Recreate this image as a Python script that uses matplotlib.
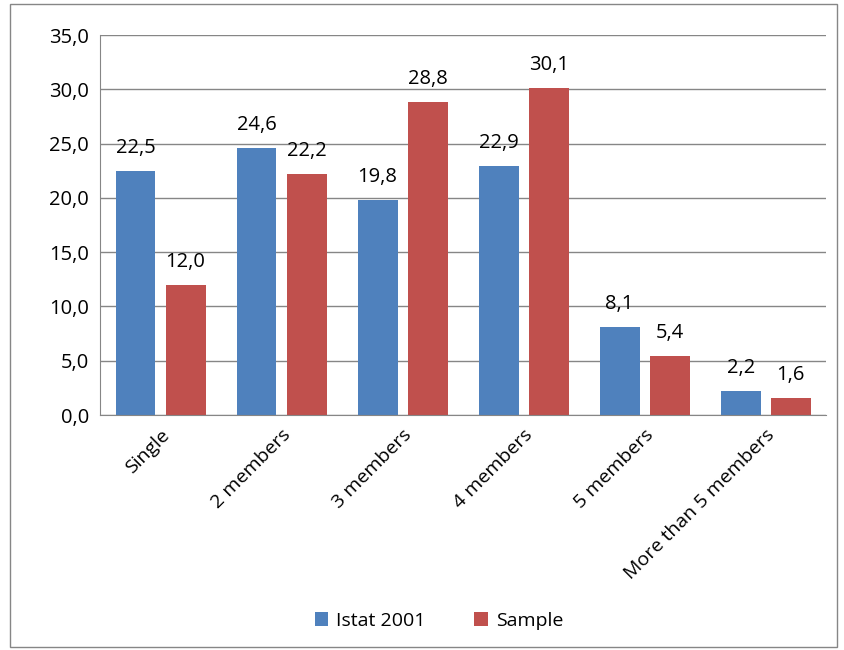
import matplotlib.pyplot as plt
import numpy as np
from matplotlib.patches import Rectangle

categories = ['Single', '2 members', '3 members', '4 members', '5 members', 'More than 5 members']
istat = [22.5, 24.6, 19.8, 22.9, 8.1, 2.2]
sample = [12.0, 22.2, 28.8, 30.1, 5.4, 1.6]

plt.rcParams['font.family'] = ['Open Sans', 'DejaVu Sans']
fig = plt.figure(figsize=(8.44, 6.5), dpi=100)
ax = fig.add_axes([0.1185, 0.3615, 0.8605, 0.5845])

x = np.arange(len(categories))
w = 0.33
b1 = ax.bar(x - 0.207, istat, w, color='#4F81BD')
b2 = ax.bar(x + 0.207, sample, w, color='#C0504D')
for bars, vals in ((b1, istat), (b2, sample)):
    for r, v in zip(bars, vals):
        ax.text(r.get_x() + r.get_width() / 2, v + 1.2, f'{v:.1f}'.replace('.', ','),
                ha='center', va='bottom', fontsize=14.5)

ax.set_xlim(-0.5, len(categories) - 0.5)
ax.set_ylim(0, 35)
ax.set_yticks(np.arange(0, 36, 5))
ax.set_yticklabels([f'{t:.1f}'.replace('.', ',') for t in np.arange(0, 36, 5)], fontsize=14.5)
ax.set_xticks(x)
ax.set_xticklabels(categories, rotation=45, ha='right', rotation_mode='anchor', fontsize=14)
ax.tick_params(axis='both', length=0, pad=8)
ax.grid(axis='y', color='#868686', linewidth=1)
ax.set_axisbelow(True)
for s in ['top', 'right']:
    ax.spines[s].set_visible(False)
ax.spines['left'].set_color('#868686')
ax.spines['bottom'].set_color('#868686')

fig.legend([b1, b2], ['Istat 2001', 'Sample'], loc='center', bbox_to_anchor=(0.52, 0.045),
           ncol=2, frameon=False, fontsize=14, handlelength=0.7, handleheight=0.7,
           handletextpad=0.4, columnspacing=2.5)

fig.patches.append(Rectangle((0.012, 0.004), 0.98, 0.99, transform=fig.transFigure,
                             fill=False, edgecolor='#868686', linewidth=1))
fig.savefig('out.png', dpi=100)
